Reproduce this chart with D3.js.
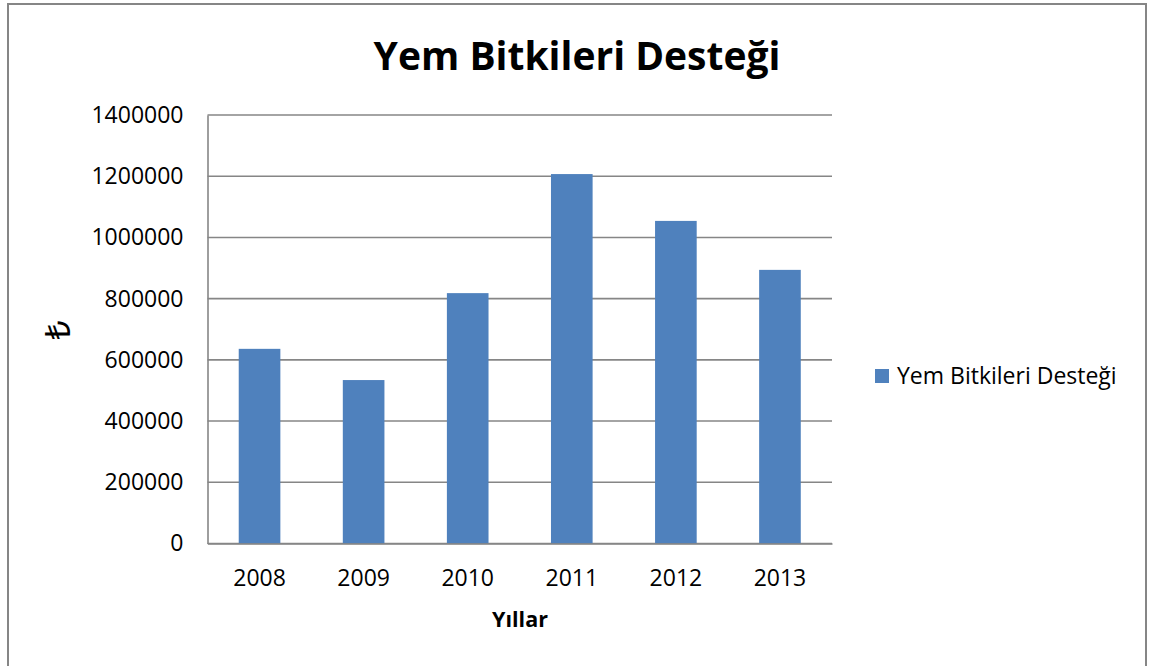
<!DOCTYPE html>
<html>
<head>
<meta charset="utf-8">
<script src="https://cdn.jsdelivr.net/npm/d3@7"></script>
<style>
  body { margin: 0; background: #fff; }
  svg text { font-family: "Open Sans", sans-serif; fill: #000; }
</style>
</head>
<body>
<div id="app"></div>
<script>
// data
const years = ["2008", "2009", "2010", "2011", "2012", "2013"];
const values = [636000, 534000, 818000, 1207000, 1054000, 894000];
const yTicks = [0, 200000, 400000, 600000, 800000, 1000000, 1200000, 1400000];
const seriesName = "Yem Bitkileri Desteği";

const width = 1159;
const height = 666;
const plot = { left: 207.5, right: 832, top: 115, bottom: 543.5 };
const gridColor = "#868686";
const barColor = "#4f81bd";

const svg = d3
  .select("#app")
  .append("svg")
  .attr("width", width)
  .attr("height", height);

// outer chart border
svg
  .append("rect")
  .attr("x", 8)
  .attr("y", 4)
  .attr("width", 1138)
  .attr("height", 700)
  .attr("fill", "#fff")
  .attr("stroke", gridColor)
  .attr("stroke-width", 2);

const xScale = d3
  .scaleBand()
  .domain(years)
  .range([plot.left, plot.right])
  .paddingInner(0.6)
  .paddingOuter(0.3);

const yScale = d3
  .scaleLinear()
  .domain([0, 1400000])
  .range([plot.bottom, plot.top]);

// gridlines
svg
  .append("g")
  .selectAll("line")
  .data(yTicks)
  .enter()
  .append("line")
  .attr("x1", plot.left)
  .attr("x2", plot.right)
  .attr("y1", (d) => yScale(d))
  .attr("y2", (d) => yScale(d))
  .attr("stroke", gridColor)
  .attr("stroke-width", 1.6);

// bars
svg
  .append("g")
  .selectAll("rect")
  .data(values)
  .enter()
  .append("rect")
  .attr("x", (d, i) => xScale(years[i]))
  .attr("y", (d) => yScale(d))
  .attr("width", xScale.bandwidth())
  .attr("height", (d) => yScale(0) - yScale(d))
  .attr("fill", barColor);

// axes
const yAxis = d3
  .axisLeft(yScale)
  .tickValues(yTicks)
  .tickFormat(d3.format("d"))
  .tickSize(0)
  .tickPadding(24);
const xAxis = d3.axisBottom(xScale).tickSize(0).tickPadding(26);

const gy = svg
  .append("g")
  .attr("transform", `translate(${plot.left}, 0)`)
  .call(yAxis);
gy.select(".domain").attr("stroke", gridColor).attr("stroke-width", 1.6);
gy.selectAll("text").style("font-size", "23px");

const gx = svg
  .append("g")
  .attr("transform", `translate(0, ${plot.bottom})`)
  .call(xAxis);
gx.select(".domain").attr("stroke", gridColor).attr("stroke-width", 1.6);
gx.selectAll("text").style("font-size", "23px");

// title
svg
  .append("text")
  .text(seriesName)
  .attr("x", 577)
  .attr("y", 70)
  .attr("text-anchor", "middle")
  .style("font-size", "39px")
  .style("font-weight", "bold");

// axis titles
svg
  .append("text")
  .text("Yıllar")
  .attr("x", 520)
  .attr("y", 627)
  .attr("text-anchor", "middle")
  .style("font-size", "21.5px")
  .style("font-weight", "bold");

svg
  .append("text")
  .text("₺")
  .attr("transform", "translate(70, 330) rotate(-90)")
  .attr("text-anchor", "middle")
  .style("font-family", "'Noto Sans', 'DejaVu Sans', sans-serif")
  .style("font-size", "34px");

// legend
const legend = svg.append("g").attr("transform", "translate(875, 369)");
legend
  .append("rect")
  .attr("width", 14)
  .attr("height", 14)
  .attr("fill", barColor);
legend
  .append("text")
  .text(seriesName)
  .attr("x", 22)
  .attr("y", 15)
  .style("font-size", "23px");
</script>
</body>
</html>
